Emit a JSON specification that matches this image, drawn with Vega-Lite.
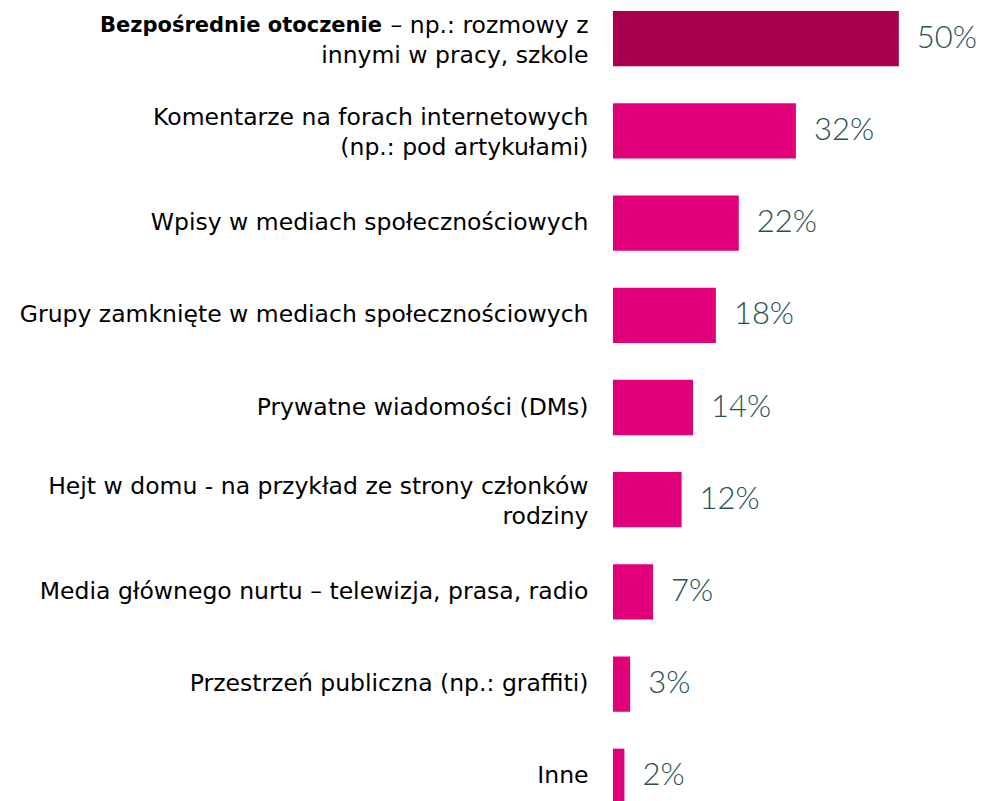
{
  "$schema": "https://vega.github.io/schema/vega-lite/v6.json",
  "autosize": "none",
  "padding": {"left": 613, "top": 11, "right": 26, "bottom": 0},
  "width": 343,
  "height": 793,
  "background": "white",
  "config": {"view": {"stroke": null}},
  "data": {
    "values": [
      {"label": "– np.: rozmowy z|innymi w pracy, szkole", "share": 0.50},
      {"label": "Komentarze na forach internetowych|(np.: pod artykułami)", "share": 0.32},
      {"label": "Wpisy w mediach społecznościowych", "share": 0.22},
      {"label": "Grupy zamknięte w mediach społecznościowych", "share": 0.18},
      {"label": "Prywatne wiadomości (DMs)", "share": 0.14},
      {"label": "Hejt w domu - na przykład ze strony członków|rodziny", "share": 0.12},
      {"label": "Media głównego nurtu – telewizja, prasa, radio", "share": 0.07},
      {"label": "Przestrzeń publiczna (np.: graffiti)", "share": 0.03},
      {"label": "Inne", "share": 0.02}
    ]
  },
  "encoding": {
    "y": {
      "field": "label",
      "type": "nominal",
      "sort": [
        "– np.: rozmowy z|innymi w pracy, szkole",
        "Komentarze na forach internetowych|(np.: pod artykułami)",
        "Wpisy w mediach społecznościowych",
        "Grupy zamknięte w mediach społecznościowych",
        "Prywatne wiadomości (DMs)",
        "Hejt w domu - na przykład ze strony członków|rodziny",
        "Media głównego nurtu – telewizja, prasa, radio",
        "Przestrzeń publiczna (np.: graffiti)",
        "Inne"
      ],
      "scale": {"paddingInner": 0.4, "paddingOuter": 0},
      "axis": {
        "title": null,
        "domain": false,
        "ticks": false,
        "labelPadding": 25,
        "labelExpr": "split(datum.value, '|')",
        "labelOffset": {"condition": {"test": "indexof(datum.value, '|') >= 0", "value": -13}, "value": 0},
        "labelFont": "DejaVu Sans",
        "labelFontSize": 23.5,
        "labelLineHeight": 30,
        "labelColor": "#000000",
        "labelLimit": 700
      }
    },
    "x": {
      "field": "share",
      "type": "quantitative",
      "scale": {"domain": [0, 0.6]},
      "axis": null
    }
  },
  "layer": [
    {
      "mark": {"type": "bar"},
      "encoding": {
        "color": {
          "condition": {"test": "datum.share == 0.5", "value": "#A8004F"},
          "value": "#E2007A"
        }
      }
    },
    {
      "mark": {"type": "text", "align": "left", "baseline": "middle", "dx": 18, "font": "Lato", "fontWeight": 300, "fontSize": 31, "color": "#2A5053"},
      "encoding": {"text": {"field": "share", "type": "quantitative", "format": ".0%"}}
    },
    {
      "transform": [{"filter": "datum.share == 0.5"}],
      "mark": {"type": "text", "align": "right", "baseline": "middle", "dx": -231, "dy": -13, "font": "DejaVu Sans", "fontWeight": "bold", "fontSize": 21, "color": "#000000"},
      "encoding": {"text": {"value": "Bezpośrednie otoczenie"}, "x": {"datum": 0}}
    }
  ]
}
